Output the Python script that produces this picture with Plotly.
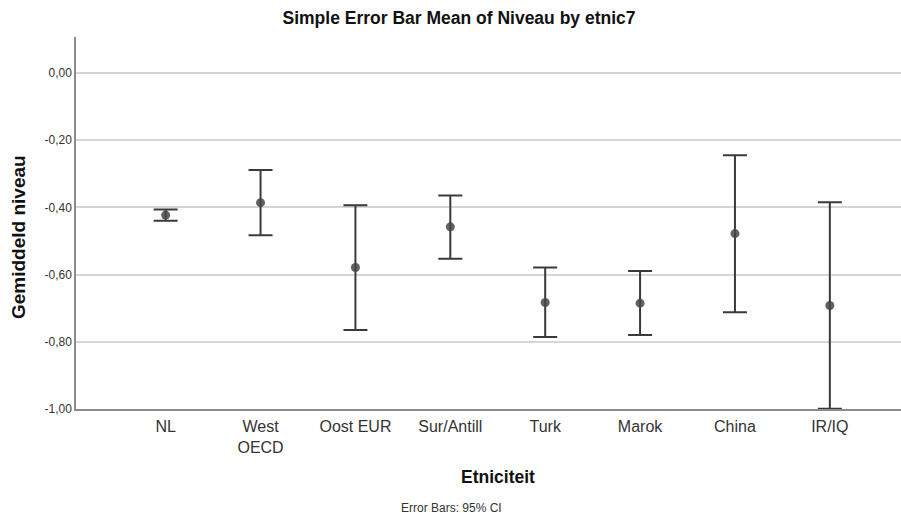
import plotly.graph_objects as go

categories = ["NL", "West<br>OECD", "Oost EUR", "Sur/Antill", "Turk", "Marok", "China", "IR/IQ"]
means = [-0.423, -0.386, -0.579, -0.458, -0.683, -0.685, -0.478, -0.692]
ci_upper = [-0.406, -0.289, -0.394, -0.365, -0.579, -0.589, -0.245, -0.385]
ci_lower = [-0.440, -0.483, -0.765, -0.553, -0.786, -0.780, -0.712, -0.999]
y_tickvals = [0.0, -0.2, -0.4, -0.6, -0.8, -1.0]
y_ticktext = ["0,00", "-0,20", "-0,40", "-0,60", "-0,80", "-1,00"]

x_idx = list(range(len(categories)))
err_plus = [u - m for u, m in zip(ci_upper, means)]
err_minus = [m - l for m, l in zip(means, ci_lower)]

FONT = "Liberation Sans, Arial, sans-serif"

fig = go.Figure()
fig.add_trace(go.Scatter(
    x=x_idx, y=means, mode="markers",
    marker=dict(size=9, color="rgba(70,70,70,0.85)"),
    error_y=dict(type="data", symmetric=False, array=err_plus, arrayminus=err_minus,
                 color="#3a3a3a", thickness=2, width=12),
    showlegend=False, hoverinfo="skip",
))

fig.update_layout(
    width=901, height=516,
    margin=dict(l=76, r=0, t=37, b=107),
    paper_bgcolor="white", plot_bgcolor="white",
    font=dict(family=FONT, color="#222"),
    title=dict(text="<b>Simple Error Bar Mean of Niveau by etnic7</b>",
               x=(459 - 76) / 825, xref="paper", xanchor="center",
               y=1 - 18 / 516, yref="container", yanchor="middle",
               font=dict(size=17.5, color="#111", family=FONT)),
    xaxis=dict(range=[-0.945, 7.75], tickmode="array", tickvals=x_idx, ticktext=categories,
               showgrid=False, zeroline=False, showline=True, linecolor="#8c8c8c", linewidth=1.5,
               ticks="outside", ticklen=2, tickcolor="rgba(0,0,0,0)",
               tickfont=dict(size=16, color="#333", family=FONT)),
    yaxis=dict(range=[-1.0, 0.107], tickmode="array", tickvals=y_tickvals, ticktext=y_ticktext,
               showgrid=True, gridcolor="#d6d6d6", gridwidth=1.5, zeroline=False,
               showline=True, linecolor="#8c8c8c", linewidth=1.5,
               tickfont=dict(size=12, color="#333", family=FONT)),
    annotations=[
        dict(text="<b>Gemiddeld niveau</b>", textangle=-90, x=(18 - 76) / 825, xref="paper",
             y=(409 - 237) / 372, yref="paper", showarrow=False,
             font=dict(size=19, color="#111", family=FONT),
             xanchor="center", yanchor="middle"),
        dict(text="<b>Etniciteit</b>", x=(498 - 76) / 825, xref="paper", y=-(477 - 409) / 372,
             yref="paper", showarrow=False, font=dict(size=17.5, color="#111", family=FONT),
             xanchor="center", yanchor="middle"),
        dict(text="Error Bars: 95% CI", x=(451 - 76) / 825, xref="paper", y=-(508 - 409) / 372,
             yref="paper", showarrow=False, font=dict(size=12, color="#333", family=FONT),
             xanchor="center", yanchor="middle"),
    ],
)

fig.write_html("out.html", config={"displayModeBar": False})

with open("out.html", "r", encoding="utf-8") as f:
    html = f.read()
html = html.replace("<body>", '<body style="margin:0;padding:0;overflow:hidden">', 1)
with open("out.html", "w", encoding="utf-8") as f:
    f.write(html)
